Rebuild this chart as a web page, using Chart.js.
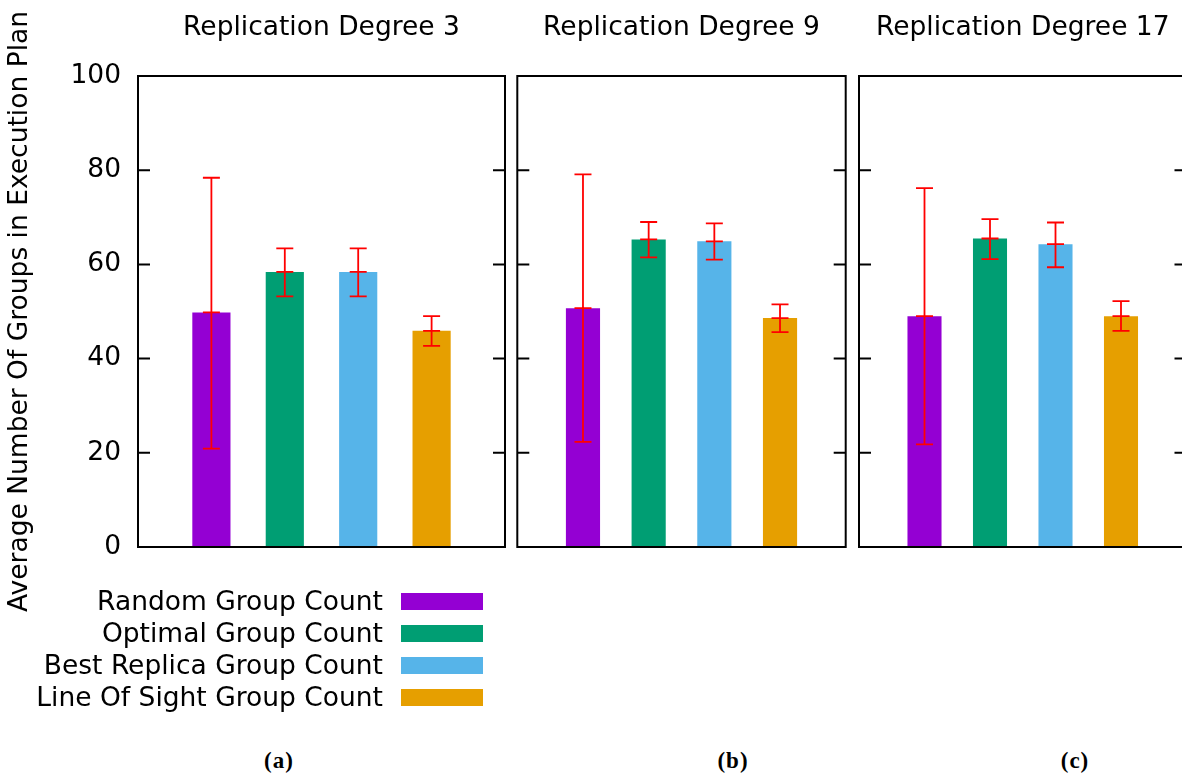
<!DOCTYPE html>
<html>
<head>
<meta charset="utf-8">
<script src="https://cdn.jsdelivr.net/npm/chart.js@4.4.1/dist/chart.umd.min.js"></script>
<style>
    body { margin: 0; background: #fff; overflow: hidden; }
    #page { position: relative; width: 1182px; height: 775px; overflow: hidden; font-family: 'DejaVu Sans', sans-serif; color: #000; }
    canvas { position: absolute; top: 0; }
    #legend { position: absolute; left: 0; top: 585px; width: 483px; }
    .row { position: relative; height: 32px; }
    .row span { position: absolute; right: 100px; top: 0; font-size: 26.5px; line-height: 32px; white-space: nowrap; }
    .row i { position: absolute; left: 401px; top: 7.5px; width: 82px; height: 17px; }
    .cap { position: absolute; top: 746px; line-height: 30px; transform: translateX(-50%); font-family: 'Liberation Serif', serif; font-weight: bold; font-size: 23px; letter-spacing: 1px; }
</style>
</head>
<body>
<div id="page">
    <canvas id="panel1" width="511" height="640" style="left:0px"></canvas>
    <canvas id="panel2" width="341" height="567" style="left:511px"></canvas>
    <canvas id="panel3" width="345" height="567" style="left:852px"></canvas>
    <div id="legend"></div>
    <div class="cap" style="left:279px">(a)</div>
    <div class="cap" style="left:733px">(b)</div>
    <div class="cap" style="left:1075px">(c)</div>
</div>
<script>
// Series and panels
const categories = ['Random Group Count', 'Optimal Group Count', 'Best Replica Group Count', 'Line Of Sight Group Count'];
const barColors = ['#9400d3', '#009e73', '#56b4e9', '#e69f00'];
const panelTitles = ['Replication Degree 3', 'Replication Degree 9', 'Replication Degree 17'];
const yTicks = [0, 20, 40, 60, 80, 100];

// mean values
const degree3 = [49.8, 58.4, 58.4, 45.9];
const degree9 = [50.7, 65.3, 64.9, 48.6];
const degree17 = [49.0, 65.5, 64.3, 49.0];

// error bar ranges
const degree3Low = [20.9, 53.2, 53.2, 42.7];
const degree3High = [78.4, 63.4, 63.4, 49.0];
const degree9Low = [22.3, 61.5, 61.0, 45.6];
const degree9High = [79.1, 69.0, 68.7, 51.5];
const degree17Low = [21.8, 61.1, 59.4, 45.9];
const degree17High = [76.2, 69.6, 68.9, 52.2];

Chart.defaults.font.family = "'DejaVu Sans', sans-serif";
Chart.defaults.color = '#000';

// box around the plot area with inward ticks on both sides
const framePlugin = {
    id: 'frame',
    afterDraw(chart) {
        const ctx = chart.ctx;
        const a = chart.chartArea;
        const y = chart.scales.y;
        ctx.save();
        ctx.strokeStyle = '#000';
        ctx.lineWidth = 2;
        ctx.strokeRect(a.left, a.top, a.right - a.left, a.bottom - a.top);
        ctx.beginPath();
        yTicks.forEach(v => {
            const py = y.getPixelForValue(v);
            ctx.moveTo(a.left, py);
            ctx.lineTo(a.left + 12, py);
            ctx.moveTo(a.right, py);
            ctx.lineTo(a.right - 12, py);
        });
        ctx.stroke();
        ctx.restore();
    }
};

// red error bars with caps at low, mean and high
const errorBarPlugin = {
    id: 'errorBars',
    afterDatasetsDraw(chart, args, opts) {
        const ctx = chart.ctx;
        const y = chart.scales.y;
        const meta = chart.getDatasetMeta(0);
        const values = chart.data.datasets[0].data;
        ctx.save();
        ctx.strokeStyle = '#ff0000';
        ctx.lineWidth = 1.8;
        meta.data.forEach((bar, i) => {
            if (values[i] == null) return;
            const x = bar.x;
            const lo = y.getPixelForValue(opts.lows[i]);
            const hi = y.getPixelForValue(opts.highs[i]);
            const mid = y.getPixelForValue(values[i]);
            ctx.beginPath();
            ctx.moveTo(x, lo);
            ctx.lineTo(x, hi);
            [lo, mid, hi].forEach(py => {
                ctx.moveTo(x - 8.5, py);
                ctx.lineTo(x + 8.5, py);
            });
            ctx.stroke();
        });
        ctx.restore();
    }
};

function buildPanel(id, title, means, lows, highs, first, padL, padR, padB) {
    new Chart(document.getElementById(id), {
        type: 'bar',
        data: {
            labels: ['', ...categories, ''],
            datasets: [{
                data: [null, ...means, null],
                backgroundColor: ['#fff', ...barColors, '#fff'],
                borderWidth: 0,
                barPercentage: 0.52,
                categoryPercentage: 1
            }]
        },
        options: {
            responsive: false,
            animation: false,
            devicePixelRatio: 1,
            layout: { padding: { left: padL, right: padR, top: 0, bottom: padB } },
            plugins: {
                legend: { display: false },
                tooltip: { enabled: false },
                title: {
                    display: true,
                    text: title,
                    fullSize: false,
                    color: '#000',
                    font: { size: 26.5, weight: 'normal' },
                    padding: { top: 12.1, bottom: 32.1 }
                },
                errorBars: {
                    lows: [null, ...lows, null],
                    highs: [null, ...highs, null]
                }
            },
            scales: {
                x: { type: 'category', offset: false, display: false },
                y: {
                    min: 0,
                    max: 100,
                    display: first,
                    afterBuildTicks: scale => { scale.ticks = yTicks.map(v => ({ value: v })); },
                    afterFit: scale => { if (first) scale.width = 138; },
                    grid: { display: false, drawTicks: false },
                    border: { display: false },
                    ticks: { padding: 17, font: { size: 26.5 }, color: '#000' },
                    title: {
                        display: true,
                        text: 'Average Number Of Groups in Execution Plan',
                        font: { size: 26.5 },
                        color: '#000',
                        padding: { top: 4.1, bottom: 0 }
                    }
                }
            }
        },
        plugins: [framePlugin, errorBarPlugin]
    });
}

buildPanel('panel1', panelTitles[0], degree3, degree3Low, degree3High, true, 0, 6, 93);
buildPanel('panel2', panelTitles[1], degree9, degree9Low, degree9High, false, 6.3, 6.3, 20);
buildPanel('panel3', panelTitles[2], degree17, degree17Low, degree17High, false, 7, 10.5, 20);

// legend rows
const legend = document.getElementById('legend');
categories.forEach((name, i) => {
    const row = document.createElement('div');
    row.className = 'row';
    row.innerHTML = '<span>' + name + '</span><i style="background:' + barColors[i] + '"></i>';
    legend.appendChild(row);
});
</script>
</body>
</html>
